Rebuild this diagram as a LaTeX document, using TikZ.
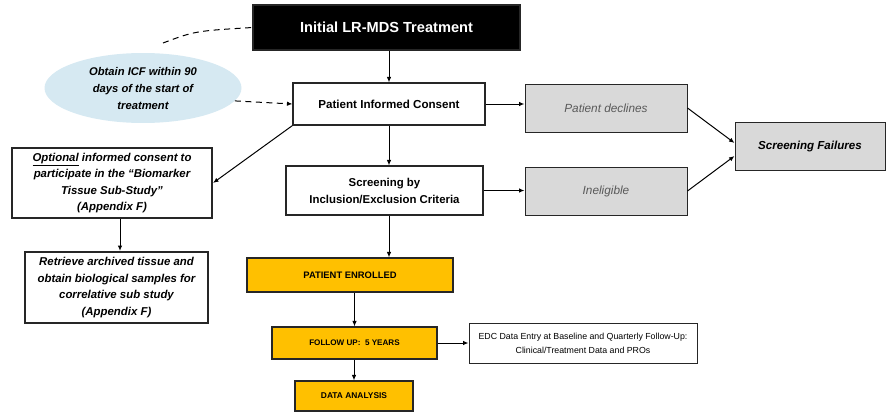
\documentclass[tikz,border=0pt]{standalone}
\usepackage{fontspec}
\setmainfont{Liberation Sans}
\usetikzlibrary{shapes.geometric, arrows.meta, positioning, calc}
\definecolor{mdsgold}{RGB}{255, 192, 0}
\definecolor{mdsgrey}{RGB}{217, 217, 217}
\definecolor{mdsblue}{RGB}{214, 233, 242}
\definecolor{mdstext}{RGB}{89, 89, 89}
\tikzset{
  flowbox/.style={draw=black!85, line width=1.1pt, align=center, inner sep=1pt},
  thickbox/.style={flowbox, line width=2pt},
  greybox/.style={flowbox, fill=mdsgrey, line width=1pt},
  goldbox/.style={flowbox, fill=mdsgold, font=\bfseries\fontsize{9.4}{11}\selectfont},
  flow/.style={line width=1pt, -{Latex[length=5.5pt, width=4.5pt]}},
  dashlink/.style={line width=1pt, dash pattern=on 6pt off 4.5pt}
}

\begin{document}
\begin{tikzpicture}[x=1pt, y=-1pt]
  \useasboundingbox (0,0) rectangle (887,415);

  % top of the flow
  \node[flowbox, fill=black, text=white, minimum width=267pt, minimum height=45pt,
        font=\bfseries\fontsize{14.6}{17}\selectfont] (init) at (386.5,27.5) {Initial LR-MDS Treatment};
  \node[ellipse, fill=mdsblue, minimum width=197pt, minimum height=70pt, inner sep=0pt, align=center,
        font=\bfseries\itshape\fontsize{11.2}{17}\selectfont] (icf) at (143,88)
        {Obtain ICF within 90\\days of the start of\\treatment};
  \node[flowbox, minimum width=192pt, minimum height=42pt,
        font=\bfseries\fontsize{11.6}{13}\selectfont] (consent) at (389,104) {Patient Informed Consent};
  \node[flowbox, minimum width=197pt, minimum height=49pt,
        font=\bfseries\fontsize{11.4}{17}\selectfont] (screen) at (384.5,190.5)
        {Screening by\\Inclusion/Exclusion Criteria};

  % screening failures
  \node[greybox, minimum width=162pt, minimum height=48pt, text=mdstext,
        font=\itshape\fontsize{11.8}{13}\selectfont] (declines) at (606,108) {Patient declines};
  \node[greybox, minimum width=162pt, minimum height=48pt, text=mdstext,
        font=\itshape\fontsize{11.8}{13}\selectfont] (inelig) at (606,191) {Ineligible};
  \node[greybox, minimum width=150pt, minimum height=48pt,
        font=\bfseries\itshape\fontsize{11.6}{13}\selectfont] (fail) at (810,146) {Screening Failures};

  % biomarker sub-study
  \node[thickbox, minimum width=200pt, minimum height=70pt,
        font=\bfseries\itshape\fontsize{11.4}{16.5}\selectfont] (optional) at (112,183)
        {\underline{Optional} informed consent to\\participate in the “Biomarker\\Tissue Sub-Study”\\(Appendix F)};
  \node[thickbox, minimum width=183pt, minimum height=71pt,
        font=\bfseries\itshape\fontsize{11.4}{16.5}\selectfont] (retrieve) at (116.5,287.5)
        {Retrieve archived tissue and\\obtain biological samples for\\correlative sub study\\(Appendix F)};

  % enrolled patients
  \node[goldbox, minimum width=206pt, minimum height=34pt] (enrolled) at (350,275) {PATIENT ENROLLED};
  \node[goldbox, minimum width=165pt, minimum height=32pt,
        font=\bfseries\fontsize{8.1}{10}\selectfont] (followup) at (354.5,343) {FOLLOW UP:\ \ 5 YEARS};
  \node[goldbox, minimum width=118pt, minimum height=30pt,
        font=\bfseries\fontsize{8.4}{10}\selectfont] (analysis) at (354,396) {DATA ANALYSIS};
  \node[flowbox, minimum width=228pt, minimum height=40pt, line width=1pt,
        font=\fontsize{8.8}{14}\selectfont] (edc) at (583,343)
        {EDC Data Entry at Baseline and Quarterly Follow-Up:\\Clinical/Treatment Data and PROs};

  % connectors
  \coordinate (icftop) at (163,43);
  \draw[dashlink] (icftop) .. controls (195,31) .. (init.west);
  \draw[flow, dashlink] (icf.-8) -- (consent.west);
  \draw[flow] (init.south -| consent.north) -- (consent.north);
  \draw[flow] (consent.south) -- (consent.south |- screen.north);
  \draw[flow] (consent.south |- screen.south) -- (consent.south |- enrolled.north);
  \draw[flow] (consent.east) -- (consent.east -| declines.west);
  \draw[flow] (screen.east) -- (screen.east -| inelig.west);
  \draw[flow] (declines.east) -- ($(fail.west)+(0,-3)$);
  \draw[flow] (inelig.east) -- ($(fail.west)+(0,10)$);
  \draw[flow] (consent.south west) -- (optional.east);
  \draw[flow] (optional.south -| 120,0) -- (retrieve.north -| 120,0);
  \draw[flow] (enrolled.south -| followup.north) -- (followup.north);
  \draw[flow] (followup.south -| analysis.north) -- (analysis.north);
  \draw[flow] (followup.east) -- (edc.west);
\end{tikzpicture}
\end{document}
